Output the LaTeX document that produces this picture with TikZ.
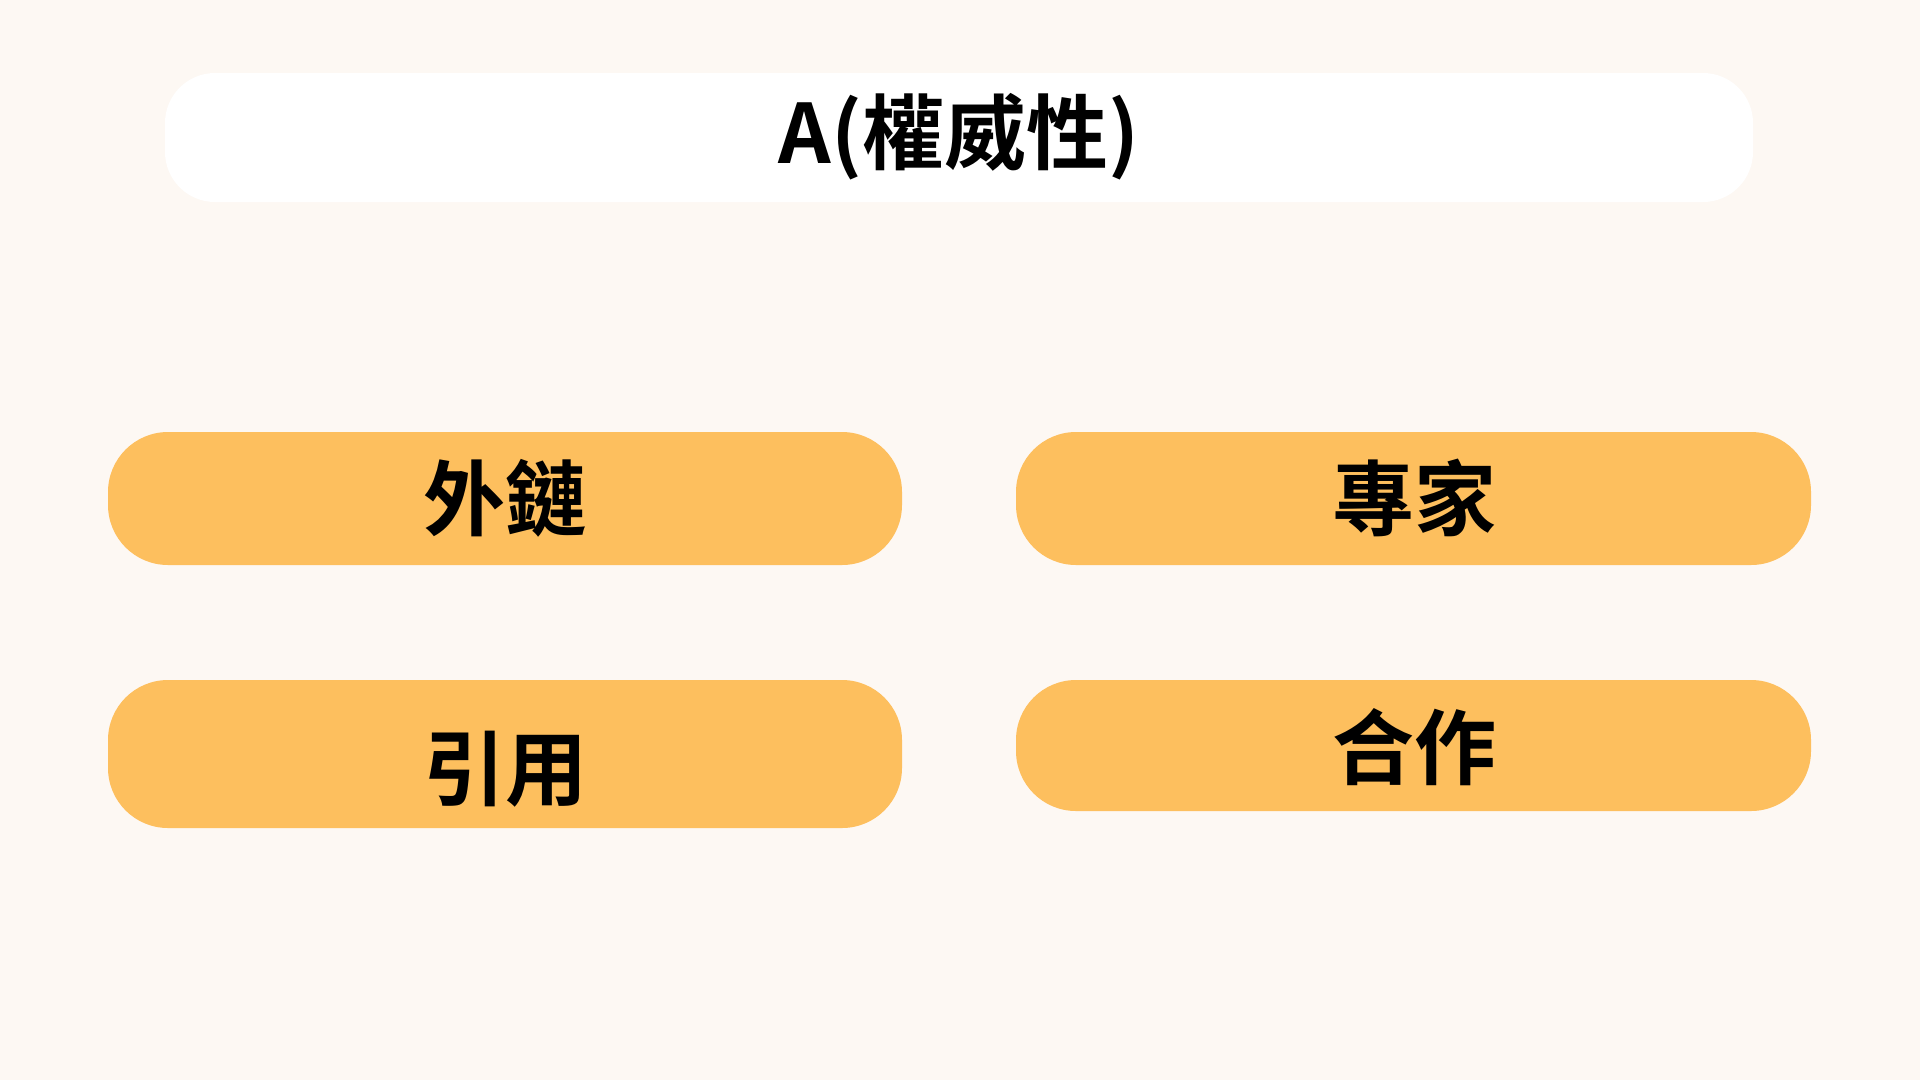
\documentclass[tikz,border=0pt]{standalone}
\usepackage{fontspec}
\newfontfamily\cjk{Noto Sans CJK TC}[BoldFont={* Bold}]
\definecolor{bgc}{HTML}{FDF8F3}
\definecolor{orng}{HTML}{FDBF5E}
\begin{document}
\begin{tikzpicture}[x=1pt,y=-1pt,
  lbl/.style={font=\cjk\bfseries\fontsize{82}{96}\selectfont, text=black, inner sep=0pt},
  pill/.style={fill=orng, rounded corners=60pt, draw=none}]
\fill[bgc] (0,0) rectangle (1920,1080);
\useasboundingbox (0,0) rectangle (1920,1080);
\fill[white, rounded corners=50pt] (165,73) rectangle (1753,202);
\node[lbl] (title) at (959,137) {A(權威性)};
\fill[pill] (108,432) rectangle (902,565);
\fill[pill] (1016,432) rectangle (1811,565);
\fill[pill] (108,680) rectangle (902,828);
\fill[pill] (1016,680) rectangle (1811,811);
\node[lbl] (a) at (505,498) {外鏈};
\node[lbl] (b) at (1414,498) {專家};
\node[lbl] (c) at (505,769) {引用};
\node[lbl] (d) at (1414,747) {合作};
\end{tikzpicture}
\end{document}
